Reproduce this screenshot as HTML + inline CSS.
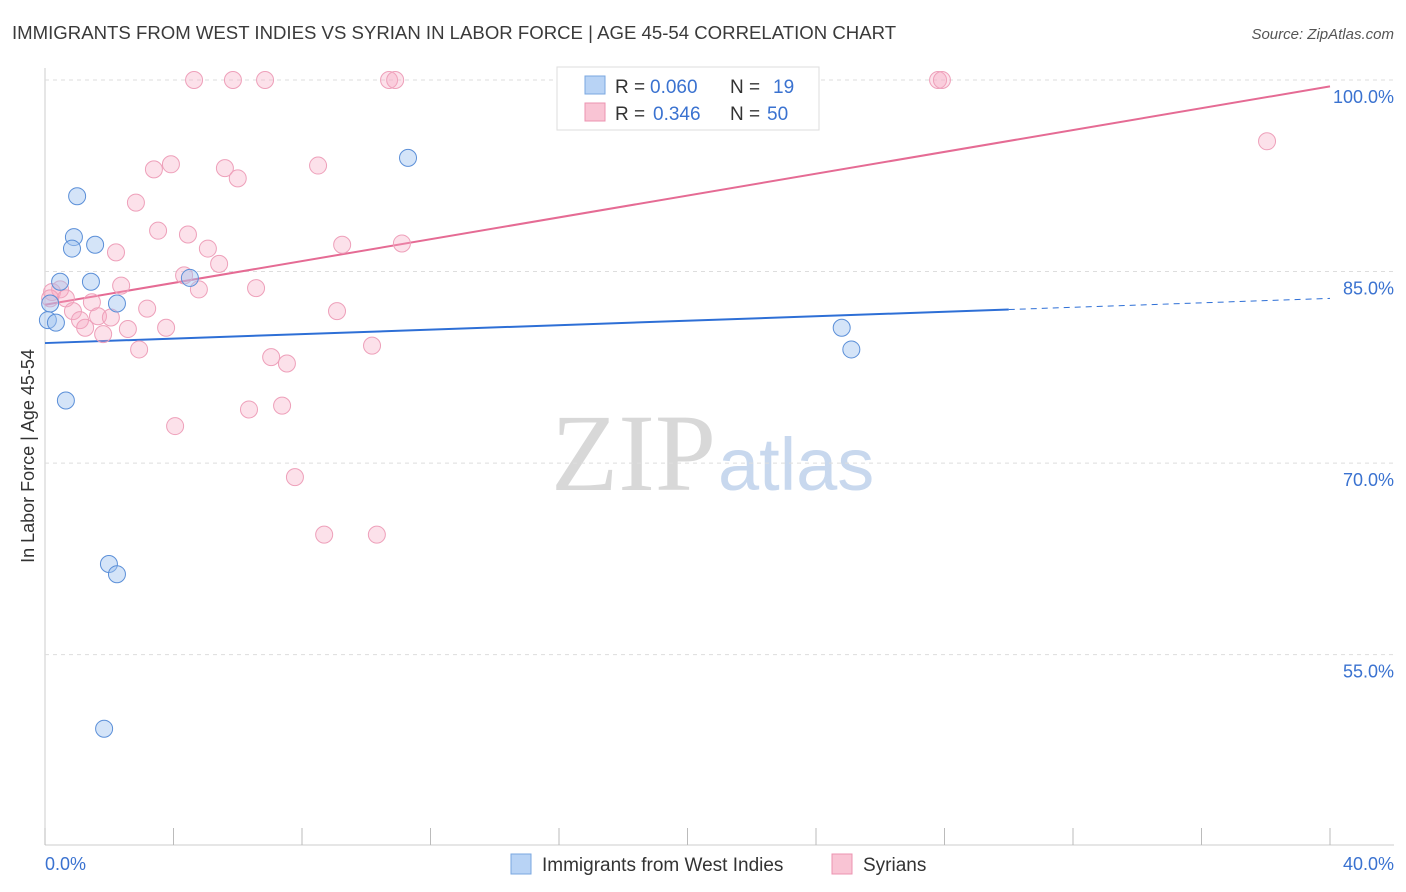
<!DOCTYPE html>
<html><head><meta charset="utf-8"><style>
body{margin:0;background:#fff;font-family:"Liberation Sans",sans-serif;}
svg{display:block}
</style></head><body>
<svg id="c" width="1406" height="892">
<text x="12" y="39" font-size="18.6" fill="#3a3a3a">IMMIGRANTS FROM WEST INDIES VS SYRIAN IN LABOR FORCE | AGE 45-54 CORRELATION CHART</text>
<text x="1394" y="39" font-size="15" fill="#555" font-style="italic" text-anchor="end">Source: ZipAtlas.com</text>
<text x="716" y="490" font-size="110" fill="#d8d8d8" text-anchor="end" font-family="Liberation Serif,serif">ZIP</text>
<text x="718" y="490" font-size="74" fill="#c8d8ee">atlas</text>
<text transform="translate(34,456) rotate(-90)" font-size="18" fill="#333" text-anchor="middle">In Labor Force | Age 45-54</text>
<g id="grid"></g><g id="trend"></g><g id="pts"></g>
<g>
<rect x="557" y="67" width="262" height="63" fill="#fff" stroke="#ddd"/>
<rect x="585" y="76" width="20" height="18" fill="#b8d3f5" stroke="#7aa7e0"/>
<rect x="585" y="103" width="20" height="18" fill="#f9c4d4" stroke="#ec93b0"/>
<text x="615" y="93" font-size="19" fill="#333">R =</text>
<text x="650" y="93" font-size="19" fill="#3a72d0">0.060</text>
<text x="730" y="93" font-size="19" fill="#333">N =</text>
<text x="773" y="93" font-size="19" fill="#3a72d0">19</text>
<text x="615" y="120" font-size="19" fill="#333">R =</text>
<text x="653" y="120" font-size="19" fill="#3a72d0">0.346</text>
<text x="730" y="120" font-size="19" fill="#333">N =</text>
<text x="767" y="120" font-size="19" fill="#3a72d0">50</text>
</g>
<g>
<rect x="511" y="854" width="20" height="20" fill="#b8d3f5" stroke="#7aa7e0"/>
<text x="542" y="871" font-size="19" fill="#333">Immigrants from West Indies</text>
<rect x="832" y="854" width="20" height="20" fill="#f9c4d4" stroke="#ec93b0"/>
<text x="863" y="871" font-size="19" fill="#333">Syrians</text>
</g>
</svg>
<script>
const yTicks=[100,85,70,55];
const yTickLabels=["100.0%","85.0%","70.0%","55.0%"];
const blueX=[1.0,0.9,0.84,1.56,0.47,1.43,2.24,0.16,0.09,0.34,4.51,11.3,0.65,1.99,2.24,1.84,24.8,25.1];
const blueY=[90.9,87.7,86.8,87.1,84.2,84.2,82.5,82.5,81.2,81.0,84.5,93.9,74.9,62.1,61.3,49.2,80.6,78.9];
const pinkX=[4.64,5.85,6.85,10.71,10.9,27.8,27.92,38.04,3.92,3.39,5.6,6.0,8.5,2.83,3.52,4.45,2.21,5.07,5.42,9.25,11.11,4.33,4.79,2.37,6.57,0.22,0.47,0.65,1.46,3.18,9.09,0.87,1.09,1.65,2.05,1.25,1.81,2.58,3.77,2.93,10.18,7.04,7.53,6.35,7.38,4.05,7.78,8.69,10.33,0.16];
const pinkY=[100,100,100,100,100,100,100,95.2,93.4,93.0,93.1,92.3,93.3,90.4,88.2,87.9,86.5,86.8,85.6,87.1,87.2,84.7,83.6,83.9,83.7,83.4,83.6,82.9,82.6,82.1,81.9,81.9,81.2,81.5,81.4,80.6,80.1,80.5,80.6,78.9,79.2,78.3,77.8,74.2,74.5,72.9,68.9,64.4,64.4,82.9];
const blueTrend=[79.4,82.9];
const pinkTrend=[82.4,99.5];
const NS="http://www.w3.org/2000/svg";
const X=v=>45+v/40*1285, Y=v=>80+(100-v)*12.77;
function mk(t,a,p){const e=document.createElementNS(NS,t);for(const k in a)e.setAttribute(k,a[k]);p.appendChild(e);return e;}
const g=document.getElementById('grid');
mk('line',{x1:45,y1:68,x2:45,y2:845,stroke:'#ccc'},g);
mk('line',{x1:45,y1:845,x2:1394,y2:845,stroke:'#ccc'},g);
for(let i=0;i<=10;i++){const l=mk('line',{x1:X(i*4),y1:828,x2:X(i*4),y2:845,stroke:'#bbb'},g);

}
yTicks.forEach((v,i)=>{const l=mk('line',{x1:45,y1:Y(v),x2:1394,y2:Y(v),stroke:'#ddd','stroke-dasharray':'4,4'},g);


const t=mk('text',{x:1394,y:Y(v)+23,'font-size':18,fill:'#3a72d0','text-anchor':'end'},g);t.textContent=yTickLabels[i];

});
const x0=mk('text',{x:45,y:870,'font-size':18,fill:'#3a72d0'},g);x0.textContent='0.0%';


const x1=mk('text',{x:1394,y:870,'font-size':18,fill:'#3a72d0','text-anchor':'end'},g);x1.textContent='40.0%';


const tr=document.getElementById('trend');
const bAt=x=>blueTrend[0]+(blueTrend[1]-blueTrend[0])*x/40;
const b1=mk('line',{x1:X(0),y1:Y(bAt(0)),x2:X(30),y2:Y(bAt(30)),stroke:'#2e6fd6','stroke-width':2},tr);


const b2=mk('line',{x1:X(30),y1:Y(bAt(30)),x2:X(40),y2:Y(bAt(40)),stroke:'#2e6fd6','stroke-width':1,'stroke-dasharray':'6,5'},tr);


const p1=mk('line',{x1:X(0),y1:Y(pinkTrend[0]),x2:X(40),y2:Y(pinkTrend[1]),stroke:'#e56b94','stroke-width':2},tr);


const pg=document.getElementById('pts');
pinkX.forEach((v,i)=>{const c=mk('circle',{cx:X(v),cy:Y(pinkY[i]),r:8.5,fill:'rgba(246,170,195,0.35)',stroke:'#eea0ba','stroke-width':1},pg);

});
blueX.forEach((v,i)=>{const c=mk('circle',{cx:X(v),cy:Y(blueY[i]),r:8.5,fill:'rgba(160,195,240,0.45)',stroke:'#5b8fd8','stroke-width':1},pg);

});
</script>
</body></html>
